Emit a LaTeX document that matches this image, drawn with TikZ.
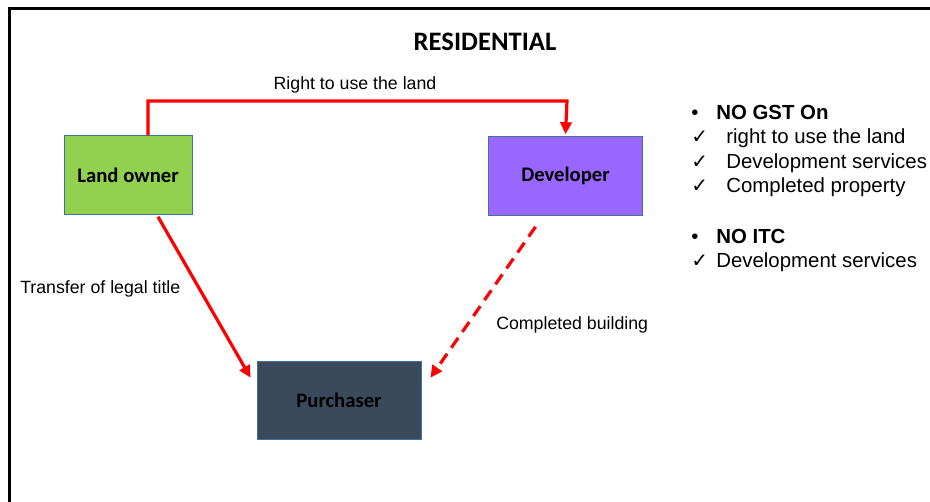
\documentclass[tikz,border=0pt]{standalone}
\usepackage{fontspec}
\setmainfont{Liberation Sans}
\newfontfamily\calibri{Carlito}
\newfontfamily\symfont{DejaVu Sans}
\usepackage{tikz}
\usetikzlibrary{positioning,arrows.meta}

\definecolor{ownergreen}{RGB}{146,208,80}
\definecolor{devpurple}{RGB}{153,102,255}
\definecolor{buyerslate}{RGB}{59,73,92}
\definecolor{boxedge}{RGB}{65,113,156}

\newcommand{\tick}{{\symfont\fontsize{15}{17}\selectfont ✓}}

\tikzset{
  party/.style={draw=boxedge, line width=0.7pt, minimum width=96pt, minimum height=59pt,
    font=\calibri\bfseries\fontsize{15.5}{18}\selectfont, inner sep=0pt},
  flow/.style={draw=red, line width=2.4pt, -{Triangle[length=9pt,width=8.5pt]}},
  lbl/.style={font=\fontsize{13.3}{15}\selectfont, inner sep=0pt},
  pt/.style={font=\fontsize{15.3}{17}\selectfont, inner sep=0pt, anchor=base west}
}

\begin{document}
\begin{tikzpicture}[x=0.75pt,y=-0.75pt]
\useasboundingbox (0,0) rectangle (930,502);
\draw[line width=2.4pt] (9.5,502) -- (9.5,8.5) -- (930,8.5);

\node[font=\calibri\bfseries\fontsize{20}{22}\selectfont] (title) at (485,42) {RESIDENTIAL};

\node[party, fill=ownergreen] (owner) at (128,175) {Land owner};
\node[party, fill=devpurple, minimum width=116pt] (dev) at (565.5,176) {Developer};
\node[party, fill=buyerslate, minimum width=123pt] (buyer) at (339,400.5) {Purchaser};

\coordinate (bend) at (567,101);
\draw[flow] ([xshift=15pt]owner.north) |- (bend) -- ([yshift=1.5pt]dev.north);
\node[lbl] (rightuse) at (355,85) {Right to use the land};

\draw[flow] ([shift={(30,2)}]owner.south) -- ([shift={(-6,17)}]buyer.north west);
\node[lbl, anchor=west] (title-tr) at (20,289) {Transfer of legal title};

\draw[flow, dash pattern=on 9pt off 5.5pt] ([shift={(-30,11)}]dev.south) -- ([shift={(9,17)}]buyer.north east);
\node[lbl, anchor=west] (built) at (496,325) {Completed building};

% no GST / no ITC notes
\node[pt] (gst) at (691,120) {\makebox[18.8pt][l]{\textbullet}\textbf{NO GST On}};
\node[pt] (gst-a) at (691,144) {\makebox[26.3pt][l]{\tick}right to use the land};
\node[pt] (gst-b) at (691,168.5) {\makebox[26.3pt][l]{\tick}Development services};
\node[pt] (gst-c) at (691,193) {\makebox[26.3pt][l]{\tick}Completed property};
\node[pt] (itc) at (691,243.5) {\makebox[18.8pt][l]{\textbullet}\textbf{NO ITC}};
\node[pt] (itc-a) at (691,267.5) {\makebox[18.8pt][l]{\tick}Development services};
\end{tikzpicture}
\end{document}
